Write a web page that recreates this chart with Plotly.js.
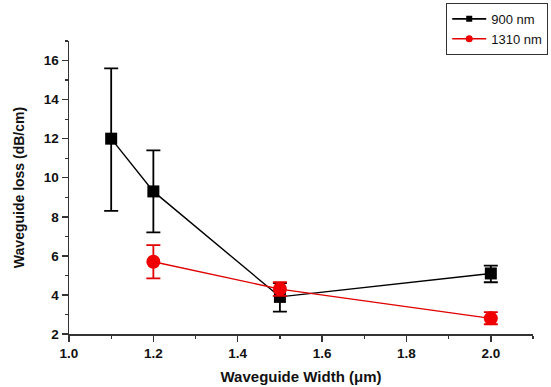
<!DOCTYPE html>
<html><head><meta charset="utf-8">
<script src="https://cdn.plot.ly/plotly-3.0.1.min.js"></script>
<style>body{margin:0;background:#fff}#c{width:551px;height:387px}</style>
</head><body><div id="c"></div>
<script>
const x900 = [1.1, 1.2, 1.5, 2.0];
const y900 = [12.0, 9.3, 3.9, 5.1];
const errPlus900 = [3.6, 2.1, 0.7, 0.4];
const errMinus900 = [3.7, 2.1, 0.75, 0.45];
const x1310 = [1.2, 1.5, 2.0];
const y1310 = [5.7, 4.3, 2.8];
const errPlus1310 = [0.85, 0.35, 0.32];
const errMinus1310 = [0.85, 0.35, 0.3];
const xTicks = [1.0, 1.2, 1.4, 1.6, 1.8, 2.0];
const xTickText = ['1.0','1.2','1.4','1.6','1.8','2.0'];
const yTicks = [2,4,6,8,10,12,14,16];
const seriesNames = ['900 nm', '1310 nm'];

const fam = 'Liberation Sans, Arial, sans-serif';
const data = [
  {x: x900, y: y900, name: seriesNames[0], mode: 'lines+markers', type: 'scatter', showlegend: false,
   line: {color: '#000', width: 1.4},
   marker: {symbol: 'square', size: 12, color: '#000'},
   error_y: {type: 'data', symmetric: false, array: errPlus900, arrayminus: errMinus900, color: '#000', thickness: 1.8, width: 7}},
  {x: x1310, y: y1310, name: seriesNames[1], mode: 'lines+markers', type: 'scatter', showlegend: false,
   line: {color: '#e00000', width: 1.4},
   marker: {symbol: 'circle', size: 14, color: '#f00000'},
   error_y: {type: 'data', symmetric: false, array: errPlus1310, arrayminus: errMinus1310, color: '#e00000', thickness: 1.8, width: 7}},
  // legend-only entries (smaller legend symbols, as in the reference)
  {x: [null], y: [null], name: seriesNames[0], mode: 'lines+markers', type: 'scatter',
   line: {color: '#000', width: 1.6}, marker: {symbol: 'square', size: 6, color: '#000'}},
  {x: [null], y: [null], name: seriesNames[1], mode: 'lines+markers', type: 'scatter',
   line: {color: '#e00000', width: 1.6}, marker: {symbol: 'circle', size: 7, color: '#f00000'}}
];
const layout = {
  width: 551, height: 387,
  margin: {l: 69, r: 18, t: 41, b: 53, autoexpand: false},
  paper_bgcolor: '#fff', plot_bgcolor: '#fff',
  showlegend: true,
  legend: {x: 0.813, y: 1.13, xanchor: 'left', yanchor: 'top',
    bordercolor: '#333', borderwidth: 1, bgcolor: '#fff',
    font: {family: fam, size: 13, color: '#111'}, tracegroupgap: 0, itemwidth: 34, tracegap: 0},
  xaxis: {range: [1.0, 2.1], tickvals: xTicks, ticktext: xTickText, ticks: 'outside', ticklen: 6, tickwidth: 1.5,
    showline: true, linecolor: '#333', linewidth: 1.5, showgrid: false, zeroline: false,
    minor: {dtick: 0.1, ticks: 'outside', ticklen: 3, tickwidth: 1.2, tickcolor: '#333', showgrid: false},
    tickcolor: '#333', tickfont: {family: fam, size: 13.5, color: '#111', weight: 'bold'},
    title: {text: 'Waveguide Width (μm)', font: {family: fam, size: 15, color: '#111', weight: 'bold'}, standoff: 12}},
  yaxis: {range: [2, 17], tickvals: yTicks, ticks: 'outside', ticklen: 6, tickwidth: 1.5,
    showline: true, linecolor: '#333', linewidth: 1.5, showgrid: false, zeroline: false,
    minor: {dtick: 1, ticks: 'outside', ticklen: 3, tickwidth: 1.2, tickcolor: '#333', showgrid: false},
    tickcolor: '#333', tickfont: {family: fam, size: 13.5, color: '#111', weight: 'bold'},
    title: {text: 'Waveguide loss (dB/cm)', font: {family: fam, size: 14, color: '#111', weight: 'bold'}, standoff: 16}}
};
Plotly.newPlot('c', data, layout, {staticPlot: true});
</script></body></html>
